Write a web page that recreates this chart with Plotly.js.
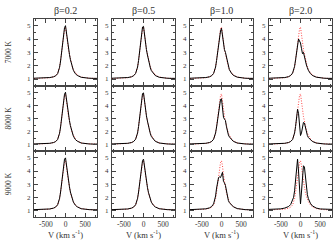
<!DOCTYPE html>
<html><head><meta charset="utf-8">
<script src="https://cdn.plot.ly/plotly-3.0.1.min.js"></script>
<style>html,body{margin:0;padding:0;background:#fff}#c{width:334px;height:244px}</style>
</head><body><div id="c"></div>
<script>
const velocity = [-800,-700,-600,-500,-400,-300,-250,-200,-175,-150,-125,-100,-75,-50,-25,0,25,50,75,100,125,150,175,200,250,300,400,500,600,700,800];
const betaLabels = ["β=0.2","β=0.5","β=1.0","β=2.0"];
const tempLabels = ["7000 K","8000 K","9000 K"];
const xTickVals = [-500,0,500];
const xTickText = ["-500","0","500"];

// red dotted reference profiles (one per temperature row)
const red7000 = [1.04,1.05,1.06,1.07,1.10,1.17,1.25,1.42,1.60,1.90,2.40,3.00,3.70,4.30,4.75,4.90,4.50,3.80,3.20,2.80,2.45,2.15,1.90,1.70,1.45,1.30,1.15,1.09,1.06,1.05,1.04];
const red8000 = [1.04,1.05,1.06,1.07,1.10,1.17,1.25,1.42,1.60,1.90,2.40,3.00,3.70,4.30,4.75,4.88,4.45,3.75,3.15,2.75,2.40,2.12,1.88,1.68,1.44,1.29,1.14,1.09,1.06,1.05,1.04];
const red9000 = [1.04,1.05,1.06,1.07,1.10,1.17,1.25,1.42,1.60,1.90,2.40,3.00,3.65,4.25,4.65,4.78,4.40,3.70,3.10,2.70,2.35,2.08,1.85,1.66,1.43,1.28,1.14,1.09,1.06,1.05,1.04];

// black model profiles
const b7000_02 = [1.06,1.07,1.08,1.09,1.11,1.17,1.24,1.40,1.58,1.88,2.35,3.00,3.75,4.40,4.85,5.00,4.40,3.70,3.25,2.85,2.45,2.10,1.85,1.65,1.40,1.27,1.13,1.08,1.06,1.05,1.05];
const b7000_05 = [1.06,1.07,1.08,1.09,1.11,1.17,1.25,1.42,1.60,1.90,2.40,3.05,3.80,4.45,4.90,4.95,4.30,3.60,3.20,2.80,2.40,2.08,1.83,1.63,1.40,1.26,1.13,1.08,1.06,1.05,1.05];
const b7000_10 = [1.06,1.07,1.08,1.09,1.11,1.17,1.25,1.42,1.60,1.90,2.40,3.00,3.60,4.20,4.60,4.80,4.20,3.50,3.20,3.00,2.60,2.20,1.90,1.70,1.45,1.28,1.14,1.08,1.06,1.05,1.05];
const b7000_20 = [1.06,1.07,1.08,1.09,1.11,1.18,1.27,1.45,1.65,1.95,2.45,3.10,3.80,4.00,3.85,3.70,3.30,2.90,3.00,2.60,2.30,2.05,1.85,1.65,1.42,1.27,1.14,1.08,1.06,1.05,1.05];

const b8000_02 = [1.06,1.07,1.08,1.09,1.11,1.17,1.24,1.40,1.58,1.88,2.35,3.00,3.75,4.40,4.85,5.00,4.40,3.70,3.25,2.85,2.45,2.10,1.85,1.65,1.40,1.27,1.13,1.08,1.06,1.05,1.05];
const b8000_05 = [1.06,1.07,1.08,1.09,1.11,1.17,1.25,1.42,1.60,1.90,2.40,3.05,3.80,4.45,4.90,4.95,4.30,3.60,3.20,2.80,2.40,2.08,1.83,1.63,1.40,1.26,1.13,1.08,1.06,1.05,1.05];
const b8000_10 = [1.06,1.07,1.08,1.09,1.11,1.17,1.25,1.42,1.60,1.90,2.35,2.90,3.50,4.10,4.45,4.50,3.80,3.10,2.95,2.85,2.40,2.00,1.75,1.60,1.40,1.26,1.13,1.08,1.06,1.05,1.05];
const b8000_20 = [1.06,1.07,1.08,1.09,1.11,1.17,1.25,1.40,1.60,1.90,2.40,3.10,3.70,3.40,2.50,1.70,1.90,2.40,2.70,2.65,2.30,1.95,1.70,1.55,1.38,1.25,1.13,1.08,1.06,1.05,1.05];

const b9000_02 = [1.06,1.07,1.08,1.09,1.11,1.18,1.26,1.43,1.62,1.92,2.40,3.05,3.80,4.45,4.90,5.00,4.40,3.70,3.20,2.80,2.40,2.08,1.83,1.63,1.40,1.27,1.13,1.08,1.06,1.05,1.05];
const b9000_05 = [1.06,1.07,1.08,1.09,1.11,1.18,1.26,1.43,1.62,1.92,2.40,3.05,3.80,4.40,4.80,4.90,4.30,3.60,3.15,2.75,2.38,2.06,1.82,1.62,1.40,1.26,1.13,1.08,1.06,1.05,1.05];
const b9000_10 = [1.06,1.07,1.08,1.09,1.12,1.20,1.30,1.50,1.75,2.10,2.70,3.30,3.50,3.55,3.50,3.70,3.90,3.20,3.10,2.90,2.40,2.00,1.75,1.60,1.42,1.28,1.14,1.08,1.06,1.05,1.05];
const b9000_20 = [1.08,1.09,1.10,1.12,1.18,1.30,1.45,1.75,2.00,2.50,3.30,4.30,4.90,4.00,2.50,1.50,2.40,3.80,4.40,4.30,3.50,2.70,2.20,1.90,1.55,1.35,1.18,1.11,1.09,1.08,1.08];

const blackRows = [[b7000_02,b7000_05,b7000_10,b7000_20],[b8000_02,b8000_05,b8000_10,b8000_20],[b9000_02,b9000_05,b9000_10,b9000_20]];
const redRows = [red7000,red8000,red9000];

const W=334,H=244;
const colPx = [[34,97],[112,175],[190,253],[269,332]];
const rowPx = [[19,85.7],[85.7,151.3],[151.3,217]];
const FONT = "Liberation Serif";
const AX = '#444';
const TXT = '#333';

const traces=[]; const layout={width:W,height:H,margin:{l:0,r:0,t:0,b:0},paper_bgcolor:'#fff',plot_bgcolor:'#fff',showlegend:false,font:{family:FONT,size:7,color:TXT},annotations:[]};
let n=0;
for(let r=0;r<3;r++){
  for(let c=0;c<4;c++){
    n++;
    const xa = n===1?'x':'x'+n, ya = n===1?'y':'y'+n;
    const xk = n===1?'xaxis':'xaxis'+n, yk = n===1?'yaxis':'yaxis'+n;
    traces.push({x:velocity,y:redRows[r],xaxis:xa,yaxis:ya,mode:'lines',line:{color:'#ff3030',width:0.9,dash:'1px,1.6px'},hoverinfo:'skip'});
    traces.push({x:velocity,y:blackRows[r][c],xaxis:xa,yaxis:ya,mode:'lines',line:{color:'#000',width:1},hoverinfo:'skip'});
    const xaxisObj={domain:[colPx[c][0]/W,colPx[c][1]/W],anchor:ya,range:[-800,800],showline:true,linecolor:AX,linewidth:1,mirror:'ticks',ticks:'inside',ticklen:4,tickcolor:AX,tickwidth:1,tickvals:xTickVals,ticktext:xTickText,showticklabels:r===2,showgrid:false,zeroline:false,tickfont:{family:FONT,size:7.5,color:TXT},minor:{tickvals:[-750,-250,250,750],ticks:'inside',ticklen:2,tickcolor:AX}};
    if(r===2){ xaxisObj.title={text:'V (km s<sup>-1</sup>)',font:{family:FONT,size:8.5,color:TXT},standoff:3}; }
    layout[xk]=xaxisObj;
    layout[yk]={domain:[1-rowPx[r][1]/H,1-rowPx[r][0]/H],anchor:xa,range:[0.5,5.5],showline:true,linecolor:AX,linewidth:1,mirror:'ticks',ticks:'inside',ticklen:4,tickcolor:AX,tickwidth:1,tickvals:[1,2,3,4,5],showgrid:false,zeroline:false,tickfont:{family:FONT,size:7,color:TXT},ticklabelstandoff:1,minor:{tickvals:[1.5,2.5,3.5,4.5],ticks:'inside',ticklen:2,tickcolor:AX}};
  }
}
for(let c=0;c<4;c++){
  const cx=(colPx[c][0]+colPx[c][1])/2/W;
  layout.annotations.push({text:betaLabels[c],xref:'paper',yref:'paper',x:cx,y:1-10/H,showarrow:false,font:{family:FONT,size:10,color:TXT,weight:'normal'},xanchor:'center',yanchor:'middle'});
}
for(let r=0;r<3;r++){
  const cy=1-(rowPx[r][0]+rowPx[r][1])/2/H;
  layout.annotations.push({text:tempLabels[r],xref:'paper',yref:'paper',x:8/W,y:cy,textangle:-90,showarrow:false,font:{family:FONT,size:7.5,color:TXT},xanchor:'center',yanchor:'middle'});
}
Plotly.newPlot('c',traces,layout,{staticPlot:true,displayModeBar:false});
</script></body></html>
